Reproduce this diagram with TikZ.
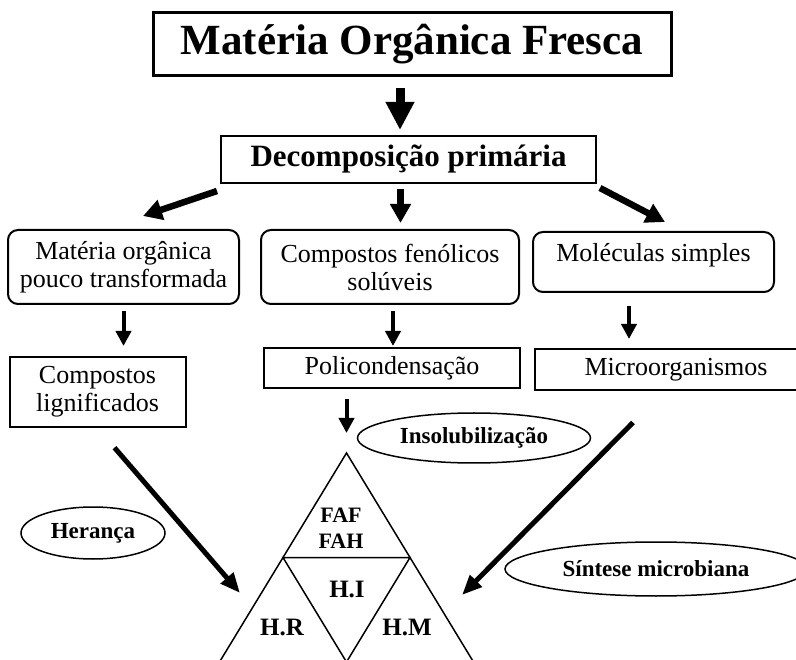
\documentclass[tikz,border=0pt]{standalone}
\usepackage{fontspec}
\setmainfont{Liberation Serif}
\usetikzlibrary{arrows.meta,shapes.geometric,calc}

\begin{document}
\begin{tikzpicture}[x=1pt,y=-1pt,
    caixa/.style={draw,line width=2pt,inner sep=0pt,align=center,font=\fontsize{26}{28}\selectfont},
    caixaR/.style={caixa,rounded corners=10pt},
    balao/.style={draw,ellipse,line width=1.5pt,inner sep=0pt,font=\fontsize{23}{25}\selectfont\bfseries},
    rotulo/.style={inner sep=0pt,align=center,font=\fontsize{25}{26}\selectfont\bfseries},
    setaG/.style={line width=9pt,-{Triangle[length=28pt,width=27pt]}},
    setaM/.style={line width=6.5pt,-{Triangle[length=19pt,width=20pt]}},
    setaP/.style={line width=4pt,-{Triangle[length=15pt,width=15pt]}},
    setaL/.style={line width=5pt,-{Triangle[length=20pt,width=16pt]}}]
    \useasboundingbox (0,0) rectangle (796,660);

    % Title and first step
    \node[caixa,line width=3pt,minimum width=518pt,minimum height=63pt,font=\fontsize{43}{45}\selectfont\bfseries] (titulo) at (412,44.5) {Matéria Orgânica Fresca};
    \node[caixa,minimum width=375pt,minimum height=47pt,font=\fontsize{31}{33}\selectfont\bfseries] (decomp) at (408.5,159.5) {Decomposição primária};

    % Second row
    \node[caixaR,minimum width=231pt,minimum height=74pt] (mo) at (123.5,267) {Matéria orgânica\\pouco transformada};
    \node[caixaR,minimum width=258pt,minimum height=74pt] (fen) at (390,267) {Compostos fenólicos\\solúveis};
    \node[caixaR,minimum width=241pt,minimum height=60pt,text height=18pt,text depth=18pt] (mol) at (653.5,262) {Moléculas simples};

    % Third row
    \node[caixa,minimum width=176pt,minimum height=70pt] (lig) at (97.5,392) {Compostos\\lignificados};
    \node[caixa,minimum width=256pt,minimum height=40pt] (poli) at (392,368) {Policondensação};
    \node[caixa,minimum width=282pt,minimum height=41pt] (micro) at (676,369.5) {Microorganismos};

    % Process ellipses
    \node[balao,minimum width=233pt,minimum height=50pt] (insol) at (474,438) {Insolubilização};
    \node[balao,minimum width=144pt,minimum height=52pt] (heranca) at (93,533) {Herança};
    \node[balao,minimum width=302pt,minimum height=54pt] (sintese) at (656,569) {Síntese microbiana};

    % Triangle of the humic fractions
    \coordinate (topo) at (346.5,453);
    \coordinate (esq) at (219.5,662);
    \coordinate (dir) at (473.5,662);
    \coordinate (base) at (346.5,662);
    \draw[line width=1.5pt] (esq) -- (topo) -- (dir);
    \draw[line width=1.5pt] ($(topo)!.5!(esq)$) -- ($(topo)!.5!(dir)$) -- (base) -- cycle;
    \node[rotulo,font=\fontsize{22}{26}\selectfont\bfseries] (faf) at (341,528) {FAF\\FAH};
    \node[rotulo] (hi) at (347,589) {H.I};
    \node[rotulo] (hr) at (282,627) {H.R};
    \node[rotulo] (hm) at (407,627) {H.M};

    % Arrows
    \coordinate (entradaR) at (240,593);
    \coordinate (entradaM) at (462,595);
    \draw[setaG,shorten <=11pt,shorten >=5pt] ($(titulo.south)+(-12,0)$) -- ($(titulo.south |- decomp.north)+(-12,0)$);
    \draw[setaM] ($(decomp.south west)+(-3,7)$) -- ($(mo.north)+(19.5,-13)$);
    \draw[setaM,shorten <=5pt,shorten >=6pt] ($(decomp.south)+(-8,0)$) -- ($(decomp.south |- fen.north)+(-8,0)$);
    \draw[setaM] ($(decomp.south east)+(3,4)$) -- ($(mol.north)+(11.5,-9)$);
    \draw[setaP,shorten <=6pt,shorten >=10pt] (mo.south) -- (mo.south |- lig.north);
    \draw[setaP,shorten <=6pt,shorten >=1pt] ($(fen.south)+(3,0)$) -- ($(fen.south |- poli.north)+(3,0)$);
    \draw[setaP,shorten <=13pt,shorten >=9pt] ($(mol.south)+(-24.5,0)$) -- ($(mol.south |- micro.north)+(-24.5,0)$);
    \draw[setaP,shorten <=10pt,shorten >=20pt] (poli.south -| topo) -- (topo);
    \draw[setaL,shorten <=26pt] (lig.south) -- (entradaR);
    \draw[setaL] ($(micro.south)+(-43,31.5)$) -- (entradaM);
\end{tikzpicture}
\end{document}
